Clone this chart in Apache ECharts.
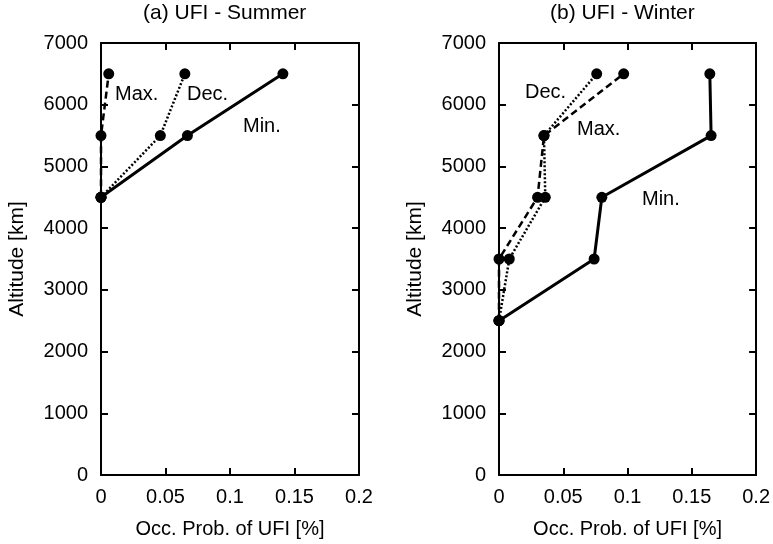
<!DOCTYPE html>
<html>
<head>
<meta charset="utf-8">
<script src="https://cdn.jsdelivr.net/npm/echarts@6/dist/echarts.min.js"></script>
<style>
	html, body { margin: 0; padding: 0; background: #fff; }
	#chart { width: 773px; height: 544px; }
</style>
</head>
<body>
<div id="chart"></div>
<script>
// altitude levels [km] (values as printed on the axis)
const altSummer = [4500, 5500, 6500];
const altWinter = [2500, 3500, 4500, 5500, 6500];

// occurrence probability of UFI [%]
const maxSummer = [0, 0, 0.006];
const decSummer = [0, 0.046, 0.065];
const minSummer = [0, 0.067, 0.141];

const maxWinter = [0, 0, 0.030, 0.035, 0.097];
const decWinter = [0, 0.008, 0.036, 0.035, 0.076];
const minWinter = [0, 0.074, 0.080, 0.165, 0.164];

const titles = ["(a) UFI - Summer", "(b) UFI - Winter"];
const xTicks = [0, 0.05, 0.1, 0.15, 0.2];
const yTicks = [0, 1000, 2000, 3000, 4000, 5000, 6000, 7000];

const font = "Liberation Sans, Arial, Helvetica, sans-serif";

const pairs = (xs, alts) => xs.map((v, i) => [v, alts[i]]);

const grids = [
	{ left: 101, top: 43, width: 258, height: 437 },
	{ left: 499, top: 43, width: 258, height: 434 }
];

// four axes per panel so the frame gets ticks on every side
const xAxis = [];
const yAxis = [];
grids.forEach((g, i) => {
	const base = {
		type: "value",
		gridIndex: i,
		min: xTicks[0],
		max: xTicks[xTicks.length - 1],
		interval: 0.05,
		splitLine: { show: false },
		axisLine: { show: true, onZero: false, lineStyle: { color: "#000", width: 2 } },
		axisTick: { show: true, inside: true, length: 7, lineStyle: { color: "#000", width: 2 } }
	};
	xAxis.push(Object.assign({}, base, {
		position: "bottom",
		name: "Occ. Prob. of UFI [%]",
		nameLocation: "middle",
		nameGap: 44,
		nameTextStyle: { color: "#000", fontSize: 20, fontFamily: font },
		axisLabel: { color: "#000", fontSize: 20, fontFamily: font, margin: 12, formatter: v => String(v) }
	}));
	xAxis.push(Object.assign({}, base, { position: "top", axisLabel: { show: false } }));

	const ybase = Object.assign({}, base, {
		min: yTicks[0],
		max: yTicks[yTicks.length - 1],
		interval: 1000
	});
	yAxis.push(Object.assign({}, ybase, {
		position: "left",
		name: "Altitude [km]",
		nameLocation: "middle",
		nameGap: 73,
		nameTextStyle: { color: "#000", fontSize: 21, fontFamily: font },
		axisLabel: { color: "#000", fontSize: 20, fontFamily: font, margin: 13, formatter: v => String(v) }
	}));
	yAxis.push(Object.assign({}, ybase, { position: "right", axisLabel: { show: false } }));
});

const lineSeries = (name, data, panel, type) => ({
	name: name,
	type: "line",
	xAxisIndex: panel * 2,
	yAxisIndex: panel * 2,
	data: data,
	clip: false,
	symbol: "circle",
	symbolSize: 11,
	itemStyle: { color: "#000" },
	lineStyle: { color: "#000", width: type === "solid" ? 3 : 2.5, type: type },
	z: 3
});

const series = [
	lineSeries("Min.", pairs(minSummer, altSummer), 0, "solid"),
	lineSeries("Dec.", pairs(decSummer, altSummer), 0, [2, 2]),
	lineSeries("Max.", pairs(maxSummer, altSummer), 0, [7, 4]),
	lineSeries("Min.", pairs(minWinter, altWinter), 1, "solid"),
	lineSeries("Dec.", pairs(decWinter, altWinter), 1, [2, 2]),
	lineSeries("Max.", pairs(maxWinter, altWinter), 1, [7, 4])
];

const txt = (x, y, s, size) => ({
	type: "text",
	left: x,
	top: y,
	style: { text: s, fill: "#000", font: size + "px " + font }
});

const option = {
	animation: false,
	backgroundColor: "#fff",
	grid: grids,
	xAxis: xAxis,
	yAxis: yAxis,
	series: series,
	graphic: [
		txt(143, 3, titles[0], 21),
		txt(550, 3, titles[1], 21),
		// curve labels
		txt(115, 84, "Max.", 20),
		txt(187, 84, "Dec.", 20),
		txt(243, 116, "Min.", 20),
		txt(525, 82, "Dec.", 20),
		txt(577, 119, "Max.", 20),
		txt(642, 189, "Min.", 20)
	]
};

const myChart = echarts.init(document.getElementById("chart"), null, { renderer: "canvas" });
myChart.setOption(option);
</script>
</body>
</html>
